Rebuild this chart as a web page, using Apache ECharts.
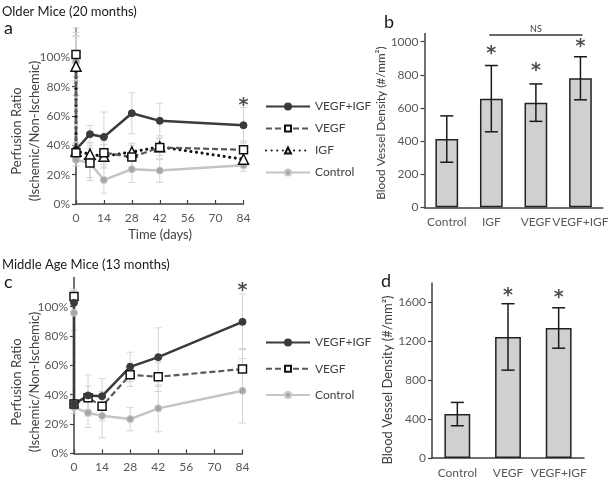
<!DOCTYPE html>
<html><head><meta charset="utf-8">
<script src="https://cdn.jsdelivr.net/npm/echarts@6/dist/echarts.min.js"></script>
<style>html,body{margin:0;padding:0;background:#fff}#c{width:611px;height:479px}</style>
</head><body><div id="c"></div>
<script>
// ---------- DATA ----------
const days = [0, 0, 7, 14, 28, 42, 84];          // first 0 = pre-surgery, second 0 = post-surgery
const pctTicks = [0, 0.2, 0.4, 0.6, 0.8, 1.0];
// Panel a: older mice (20 months), perfusion ratio
const aVegfIgf    = [1.02, 0.37, 0.476, 0.457, 0.619, 0.567, 0.537];
const aVegfIgfErr = [0.18, 0.05, 0.06, 0.17, 0.14, 0.12, 0.12];
const aVegf       = [1.02, 0.35, 0.28, 0.35, 0.32, 0.385, 0.37];
const aVegfErr    = [0.15, 0.05, 0.10, 0.08, 0.08, 0.08, 0.06];
const aIgf        = [0.94, 0.36, 0.34, 0.325, 0.355, 0.39, 0.305];
const aIgfErr     = [0.20, 0.05, 0.08, 0.08, 0.06, 0.06, 0.05];
const aCtrl       = [0.97, 0.30, 0.28, 0.164, 0.237, 0.228, 0.264];
const aCtrlErr    = [0.18, 0.04, 0.12, 0.09, 0.09, 0.08, 0.04];
const aStar       = [[84, 0.69]];
// Panel c: middle age mice (13 months)
const cVegfIgf    = [1.027, 0.336, 0.395, 0.39, 0.59, 0.656, 0.897];
const cVegfIgfErr = [0.08, 0.03, 0.14, 0.12, 0.10, 0.20, 0.19];
const cVegf       = [1.07, 0.336, 0.379, 0.322, 0.536, 0.522, 0.575];
const cVegfErr    = [0.05, 0.03, 0.08, 0.10, 0.08, 0.10, 0.14];
const cCtrl       = [0.959, 0.314, 0.277, 0.256, 0.234, 0.307, 0.427];
const cCtrlErr    = [0.12, 0.04, 0.10, 0.15, 0.08, 0.16, 0.22];
const cStar       = [[84, 1.13]];
// Panel b: blood vessel density, older mice
const bCats  = ['Control', 'IGF', 'VEGF', 'VEGF+IGF'];
const bVals  = [412, 656, 632, 779];
const bErr   = [140, 200, 113, 130];
const bStar  = [['IGF', 946], ['VEGF', 841], ['VEGF+IGF', 984]];
const bTicks = [0, 200, 400, 600, 800, 1000];
// Panel d: blood vessel density, middle age mice
const dCats  = ['Control', 'VEGF', 'VEGF+IGF'];
const dVals  = [452, 1246, 1338];
const dErr   = [120, 342, 208];
const dStar  = [['VEGF', 1699], ['VEGF+IGF', 1680]];
const dTicks = [0, 400, 800, 1200, 1600];

// ---------- CHART ----------
const FONT = 'Lato';
const AX = '#404040', LBL = '#595959', ERRC = '#d4d4d4';
const chart = echarts.init(document.getElementById('c'), null, {renderer: 'canvas'});

const pairs = (vals) => vals.map((v, i) => [days[i], v]);
const errTriples = (vals, errs) => vals.map((v, i) => [days[i], v, errs[i]]);

function errRenderer(color, lw, cap) {
  return function (params, api) {
    const x = api.value(0), y = api.value(1), e = api.value(2);
    const t = api.coord([x, y + e]), b = api.coord([x, y - e]);
    const st = {stroke: color, lineWidth: lw};
    return {type: 'group', children: [
      {type: 'line', shape: {x1: t[0], y1: t[1], x2: b[0], y2: b[1]}, style: st},
      {type: 'line', shape: {x1: t[0] - cap, y1: t[1], x2: t[0] + cap, y2: t[1]}, style: st},
      {type: 'line', shape: {x1: b[0] - cap, y1: b[1], x2: b[0] + cap, y2: b[1]}, style: st}
    ]};
  };
}

const styles = {
  'VEGF+IGF': {symbol: 'circle', symbolSize: 7, itemStyle: {color: '#3a3a3a', borderColor: '#3a3a3a', borderWidth: 1}, lineStyle: {color: '#3a3a3a', width: 2.5}},
  'VEGF': {symbol: 'rect', symbolSize: 8, itemStyle: {color: '#ffffff', borderColor: '#111', borderWidth: 1.5}, lineStyle: {color: '#595959', width: 2.2, type: [6, 3]}},
  'IGF': {symbol: 'triangle', symbolSize: 10, itemStyle: {color: '#ffffff', borderColor: '#111', borderWidth: 1.5}, lineStyle: {color: '#111', width: 3, type: [0.1, 5.5], cap: 'round'}},
  'Control': {symbol: 'circle', symbolSize: 7, itemStyle: {color: '#a6a6a6', borderColor: '#c8c8c8', borderWidth: 1}, lineStyle: {color: '#c4c4c4', width: 2.5}}
};

function lineSeries(name, vals, idx) {
  return Object.assign({type: 'line', name: name, xAxisIndex: idx, yAxisIndex: idx, data: pairs(vals), z: 3, animation: false}, styles[name]);
}
function errSeries(vals, errs, idx) {
  return {type: 'custom', xAxisIndex: idx, yAxisIndex: idx, data: errTriples(vals, errs), renderItem: errRenderer(ERRC, 1, 3.5), z: 1, silent: true, animation: false};
}
function barErrSeries(cats, vals, errs, idx) {
  return {type: 'custom', xAxisIndex: idx, yAxisIndex: idx, data: cats.map((c, i) => [i, vals[i], errs[i]]), renderItem: errRenderer('#1a1a1a', 1.5, 6.5), z: 5, silent: true, animation: false};
}
function starSeries(data, idx) {
  return {type: 'scatter', xAxisIndex: idx, yAxisIndex: idx, data: data, symbol: 'circle', symbolSize: 1,
    itemStyle: {color: 'rgba(0,0,0,0)'}, z: 6, animation: false, silent: true,
    label: {show: true, formatter: '*', position: 'inside', fontSize: 19, fontWeight: 'bold', color: '#222', fontFamily: 'DejaVu Sans', offset: [0, 3]}};
}

const axisLineStyle = {lineStyle: {color: AX, width: 1.5}};
const lineXAxis = (idx) => ({type: 'value', gridIndex: idx, min: 0, max: 84, interval: 14,
  axisLine: axisLineStyle, axisTick: {inside: true, length: 4, lineStyle: {color: AX, width: 1.2}},
  axisLabel: {color: LBL, fontSize: 12, fontFamily: FONT, margin: 8}, splitLine: {show: false}});
const lineYAxis = (idx) => ({type: 'value', gridIndex: idx, min: 0, max: 1.2,
  axisLine: {show: true, lineStyle: {color: AX, width: 1.5}},
  axisTick: {show: true, length: 4, customValues: pctTicks, lineStyle: {color: AX, width: 1.2}},
  axisLabel: {color: LBL, fontSize: 12, fontFamily: FONT, margin: 6, customValues: pctTicks, formatter: v => Math.round(v * 100) + '%'},
  splitLine: {show: false}});
const catXAxis = (idx, cats) => ({type: 'category', gridIndex: idx, data: cats, axisLine: axisLineStyle,
  axisTick: {length: 4, lineStyle: {color: AX, width: 1.2}},
  axisLabel: {color: LBL, fontSize: 12, fontFamily: FONT, margin: 9, interval: 0}});
const barYAxis = (idx, max, ticks) => ({type: 'value', gridIndex: idx, min: 0, max: max,
  axisLine: {show: true, lineStyle: {color: AX, width: 1.5}},
  axisTick: {show: true, length: 4, customValues: ticks, lineStyle: {color: AX, width: 1.2}},
  axisLabel: {color: LBL, fontSize: 12, fontFamily: FONT, margin: 6, customValues: ticks, formatter: v => String(v)},
  splitLine: {show: false}});

const legendText = {fontSize: 12, color: '#404040', fontFamily: FONT, lineHeight: 14};

const option = {
  backgroundColor: '#ffffff',
  animation: false,
  textStyle: {fontFamily: FONT},
  grid: [
    {left: 76, top: 28, width: 167.5, height: 176},
    {left: 424.5, top: 33.4, width: 183, height: 173.9},
    {left: 74, top: 277.4, width: 168.5, height: 176},
    {left: 432, top: 283.1, width: 152, height: 176.2}
  ],
  xAxis: [lineXAxis(0), catXAxis(1, bCats), lineXAxis(2), catXAxis(3, dCats)],
  yAxis: [lineYAxis(0), barYAxis(1, 1050, bTicks), lineYAxis(2), barYAxis(3, 1800, dTicks)],
  legend: [
    {orient: 'vertical', left: 260, top: 94.5, itemWidth: 44, itemHeight: 7.5, itemGap: 8, selectedMode: false,
      data: ['VEGF+IGF', 'VEGF', 'IGF', 'Control'], textStyle: legendText},
    {orient: 'vertical', left: 260, top: 330.5, itemWidth: 44, itemHeight: 7.5, itemGap: 12.3, selectedMode: false,
      data: ['VEGF+IGF', 'VEGF', 'Control'], textStyle: legendText}
  ],
  series: [
    errSeries(aVegfIgf, aVegfIgfErr, 0), errSeries(aVegf, aVegfErr, 0), errSeries(aIgf, aIgfErr, 0), errSeries(aCtrl, aCtrlErr, 0),
    lineSeries('VEGF+IGF', aVegfIgf, 0), lineSeries('Control', aCtrl, 0), lineSeries('IGF', aIgf, 0), lineSeries('VEGF', aVegf, 0),
    starSeries(aStar, 0),
    {type: 'bar', xAxisIndex: 1, yAxisIndex: 1, data: bVals, barWidth: '51%', itemStyle: {color: '#d0d0d0', borderColor: '#222', borderWidth: 1.5}, animation: false},
    barErrSeries(bCats, bVals, bErr, 1),
    starSeries(bStar, 1),
    errSeries(cVegfIgf, cVegfIgfErr, 2), errSeries(cVegf, cVegfErr, 2), errSeries(cCtrl, cCtrlErr, 2),
    lineSeries('Control', cCtrl, 2), lineSeries('VEGF', cVegf, 2), lineSeries('VEGF+IGF', cVegfIgf, 2),
    starSeries(cStar, 2),
    {type: 'bar', xAxisIndex: 3, yAxisIndex: 3, data: dVals, barWidth: '51%', itemStyle: {color: '#d0d0d0', borderColor: '#222', borderWidth: 1.5}, animation: false},
    barErrSeries(dCats, dVals, dErr, 3),
    starSeries(dStar, 3)
  ]
};
chart.setOption(option);

// ---------- TEXT ANNOTATIONS ----------
const T = (x, y, text, size) => ({type: 'text', x: x, y: y,
  style: {text: text, fontSize: size, fontFamily: FONT, fill: '#1a1a1a', textAlign: 'left', textVerticalAlign: 'middle'}});
const RT = (x, y, text, size) => ({type: 'text', x: x, y: y, rotation: Math.PI / 2,
  style: {text: text, fontSize: size, fontFamily: FONT, fill: '#404040', textAlign: 'center', textVerticalAlign: 'middle'}});

// NS bracket over IGF..VEGF+IGF
const p1 = chart.convertToPixel({xAxisIndex: 1, yAxisIndex: 1}, ['IGF', 1040]);
const p2 = chart.convertToPixel({xAxisIndex: 1, yAxisIndex: 1}, ['VEGF+IGF', 1040]);

chart.setOption({graphic: [
  T(2, 12, 'Older Mice (20 months)', 13),
  T(4, 28, 'a', 18),
  T(2, 265, 'Middle Age Mice (13 months)', 13),
  T(4, 282, 'c', 18),
  T(384, 22, 'b', 18),
  T(381, 281, 'd', 18),
  {type: 'text', x: 160, y: 235, style: {text: 'Time (days)', fontSize: 13, fontFamily: FONT, fill: '#404040', textAlign: 'center', textVerticalAlign: 'middle'}},
  RT(17, 131, 'Perfusion Ratio', 13),
  RT(35, 131, '(Ischemic/Non-Ischemic)', 13),
  RT(17, 382, 'Perfusion Ratio', 13),
  RT(35, 382, '(Ischemic/Non-Ischemic)', 13),
  RT(381, 123, 'Blood Vessel Density (#/mm²)', 11.8),
  RT(388, 380, 'Blood Vessel Density (#/mm²)', 13),
  {type: 'line', shape: {x1: p1[0] - 2, y1: p1[1], x2: p2[0] + 2, y2: p2[1]}, style: {stroke: '#333', lineWidth: 1.5}},
  {type: 'text', x: (p1[0] + p2[0]) / 2, y: p1[1] - 6, style: {text: 'NS', fontSize: 9, fontFamily: FONT, fill: '#404040', textAlign: 'center', textVerticalAlign: 'middle'}}
]});
</script>
</body></html>
